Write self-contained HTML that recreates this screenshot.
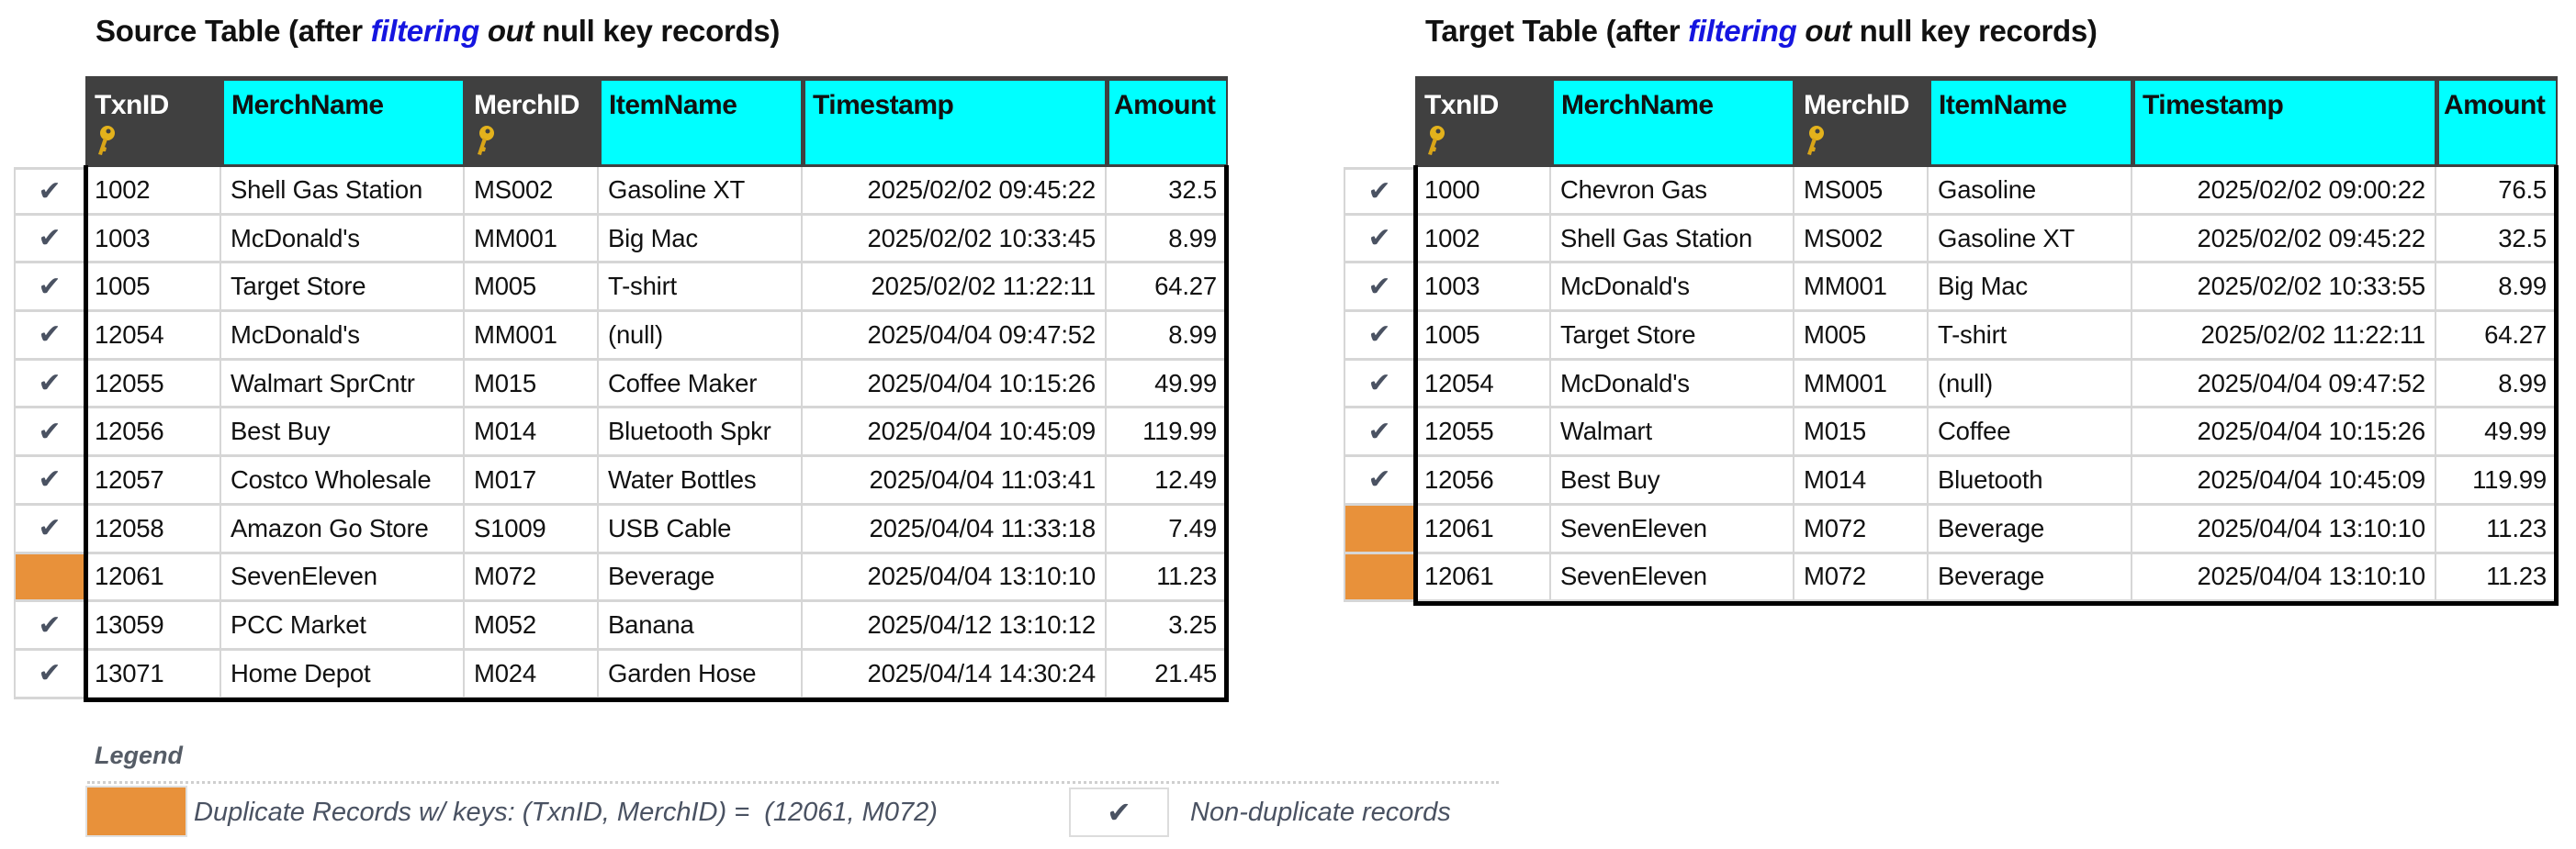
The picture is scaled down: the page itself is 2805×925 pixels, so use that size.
<!DOCTYPE html>
<html><head><meta charset="utf-8">
<style>
body{margin:0;width:2805px;height:925px;background:#fff;position:relative;overflow:hidden;font-family:"Liberation Sans",sans-serif;color:#111}
.title{position:absolute;top:15px;font-weight:bold;font-size:33px;white-space:nowrap;letter-spacing:-0.3px}
.title .f{color:#1515e0;font-style:italic}
.title .o{font-style:italic}
.t{position:absolute;top:83px}
table{border-collapse:separate;border-spacing:0;table-layout:fixed}
td{padding:0;font-size:27.5px;white-space:nowrap;overflow:hidden;height:52.7px;border-bottom:3px solid #d6d6d6;border-right:2px solid #d6d6d6;padding-left:10px;box-sizing:border-box;letter-spacing:-0.2px}
td.r{text-align:right;padding-right:10px;padding-left:0}
td.c{text-align:center;padding:0;color:#4a5262;font-size:30px;border-left:2px solid #d6d6d6}
td.c.first{border-top:3px solid #d6d6d6}
td.dup{background:#e8913a}
tr.h td{height:99px;border:none;padding:0;vertical-align:top;background:#404040;position:relative}
tr.h td.blank{background:#fff}
.hc{position:absolute;top:5px;left:3px;right:2px;bottom:3px;background:#00ffff;font-weight:bold;font-size:30px;padding:10px 0 0 8px;color:#111;letter-spacing:-0.5px}
.hd{color:#fff;font-weight:bold;font-size:30px;padding:15px 0 0 10px;letter-spacing:-0.5px}
.hd svg{display:block;margin-top:4px}
.bb{position:absolute;background:#000}
</style></head><body>

<div class="title" style="left:104px">Source Table (after <span class="f">filtering</span> <span class="o">out</span> null key records)</div>
<div class="title" style="left:1552px">Target Table (after <span class="f">filtering</span> <span class="o">out</span> null key records)</div>

<!-- SOURCE -->
<div class="t" style="left:15px">
<table>
<colgroup><col style="width:78px"><col style="width:148px"><col style="width:265px"><col style="width:146px"><col style="width:222px"><col style="width:331px"><col style="width:132px"></colgroup>
<tr class="h"><td class="blank"></td>
<td><div class="hd">TxnID<svg width="24" height="34" viewBox="0 0 24 34"><circle cx="14" cy="9" r="8" fill="#e3b21c"/><circle cx="15" cy="7" r="2.5" fill="#404040"/><path d="M10 14 L4 32 L8 33 L9 29 L12 29 L13 25 L11 24 L14 16Z" fill="#d9a518"/></svg></div></td>
<td><div class="hc">MerchName</div></td>
<td><div class="hd">MerchID<svg width="24" height="34" viewBox="0 0 24 34"><circle cx="14" cy="9" r="8" fill="#e3b21c"/><circle cx="15" cy="7" r="2.5" fill="#404040"/><path d="M10 14 L4 32 L8 33 L9 29 L12 29 L13 25 L11 24 L14 16Z" fill="#d9a518"/></svg></div></td>
<td><div class="hc">ItemName</div></td>
<td><div class="hc">Timestamp</div></td>
<td><div class="hc" style="padding-left:5px">Amount</div></td></tr>
<tr><td class="c first">✔</td><td>1002</td><td>Shell Gas Station</td><td>MS002</td><td>Gasoline XT</td><td class="r">2025/02/02 09:45:22</td><td class="r">32.5</td></tr>
<tr><td class="c">✔</td><td>1003</td><td>McDonald's</td><td>MM001</td><td>Big Mac</td><td class="r">2025/02/02 10:33:45</td><td class="r">8.99</td></tr>
<tr><td class="c">✔</td><td>1005</td><td>Target Store</td><td>M005</td><td>T-shirt</td><td class="r">2025/02/02 11:22:11</td><td class="r">64.27</td></tr>
<tr><td class="c">✔</td><td>12054</td><td>McDonald's</td><td>MM001</td><td>(null)</td><td class="r">2025/04/04 09:47:52</td><td class="r">8.99</td></tr>
<tr><td class="c">✔</td><td>12055</td><td>Walmart SprCntr</td><td>M015</td><td>Coffee Maker</td><td class="r">2025/04/04 10:15:26</td><td class="r">49.99</td></tr>
<tr><td class="c">✔</td><td>12056</td><td>Best Buy</td><td>M014</td><td>Bluetooth Spkr</td><td class="r">2025/04/04 10:45:09</td><td class="r">119.99</td></tr>
<tr><td class="c">✔</td><td>12057</td><td>Costco Wholesale</td><td>M017</td><td>Water Bottles</td><td class="r">2025/04/04 11:03:41</td><td class="r">12.49</td></tr>
<tr><td class="c">✔</td><td>12058</td><td>Amazon Go Store</td><td>S1009</td><td>USB Cable</td><td class="r">2025/04/04 11:33:18</td><td class="r">7.49</td></tr>
<tr><td class="c dup"></td><td>12061</td><td>SevenEleven</td><td>M072</td><td>Beverage</td><td class="r">2025/04/04 13:10:10</td><td class="r">11.23</td></tr>
<tr><td class="c">✔</td><td>13059</td><td>PCC Market</td><td>M052</td><td>Banana</td><td class="r">2025/04/12 13:10:12</td><td class="r">3.25</td></tr>
<tr><td class="c">✔</td><td>13071</td><td>Home Depot</td><td>M024</td><td>Garden Hose</td><td class="r">2025/04/14 14:30:24</td><td class="r">21.45</td></tr>
</table></div>
<div class="bb" style="left:91px;top:180px;width:5px;height:585px"></div>
<div class="bb" style="left:1333px;top:180px;width:5px;height:585px"></div>
<div class="bb" style="left:91px;top:760px;width:1247px;height:5px"></div>

<!-- TARGET -->
<div class="t" style="left:1463px">
<table>
<colgroup><col style="width:78px"><col style="width:148px"><col style="width:265px"><col style="width:146px"><col style="width:222px"><col style="width:331px"><col style="width:132px"></colgroup>
<tr class="h"><td class="blank"></td>
<td><div class="hd">TxnID<svg width="24" height="34" viewBox="0 0 24 34"><circle cx="14" cy="9" r="8" fill="#e3b21c"/><circle cx="15" cy="7" r="2.5" fill="#404040"/><path d="M10 14 L4 32 L8 33 L9 29 L12 29 L13 25 L11 24 L14 16Z" fill="#d9a518"/></svg></div></td>
<td><div class="hc">MerchName</div></td>
<td><div class="hd">MerchID<svg width="24" height="34" viewBox="0 0 24 34"><circle cx="14" cy="9" r="8" fill="#e3b21c"/><circle cx="15" cy="7" r="2.5" fill="#404040"/><path d="M10 14 L4 32 L8 33 L9 29 L12 29 L13 25 L11 24 L14 16Z" fill="#d9a518"/></svg></div></td>
<td><div class="hc">ItemName</div></td>
<td><div class="hc">Timestamp</div></td>
<td><div class="hc" style="padding-left:5px">Amount</div></td></tr>
<tr><td class="c first">✔</td><td>1000</td><td>Chevron Gas</td><td>MS005</td><td>Gasoline</td><td class="r">2025/02/02 09:00:22</td><td class="r">76.5</td></tr>
<tr><td class="c">✔</td><td>1002</td><td>Shell Gas Station</td><td>MS002</td><td>Gasoline XT</td><td class="r">2025/02/02 09:45:22</td><td class="r">32.5</td></tr>
<tr><td class="c">✔</td><td>1003</td><td>McDonald's</td><td>MM001</td><td>Big Mac</td><td class="r">2025/02/02 10:33:55</td><td class="r">8.99</td></tr>
<tr><td class="c">✔</td><td>1005</td><td>Target Store</td><td>M005</td><td>T-shirt</td><td class="r">2025/02/02 11:22:11</td><td class="r">64.27</td></tr>
<tr><td class="c">✔</td><td>12054</td><td>McDonald's</td><td>MM001</td><td>(null)</td><td class="r">2025/04/04 09:47:52</td><td class="r">8.99</td></tr>
<tr><td class="c">✔</td><td>12055</td><td>Walmart</td><td>M015</td><td>Coffee</td><td class="r">2025/04/04 10:15:26</td><td class="r">49.99</td></tr>
<tr><td class="c">✔</td><td>12056</td><td>Best Buy</td><td>M014</td><td>Bluetooth</td><td class="r">2025/04/04 10:45:09</td><td class="r">119.99</td></tr>
<tr><td class="c dup"></td><td>12061</td><td>SevenEleven</td><td>M072</td><td>Beverage</td><td class="r">2025/04/04 13:10:10</td><td class="r">11.23</td></tr>
<tr><td class="c dup"></td><td>12061</td><td>SevenEleven</td><td>M072</td><td>Beverage</td><td class="r">2025/04/04 13:10:10</td><td class="r">11.23</td></tr>
</table></div>
<div class="bb" style="left:1539px;top:180px;width:5px;height:480px"></div>
<div class="bb" style="left:2781px;top:180px;width:5px;height:480px"></div>
<div class="bb" style="left:1539px;top:655px;width:1247px;height:5px"></div>

<!-- LEGEND -->
<div style="position:absolute;left:103px;top:808px;font-size:27px;font-weight:bold;font-style:italic;color:#555c66">Legend</div>
<div style="position:absolute;left:95px;top:851px;width:1537px;border-top:3px dotted #cfcfcf"></div>
<div style="position:absolute;left:95px;top:858px;width:107px;height:52px;background:#e8913a;box-shadow:0 0 0 2px #e0e0e0"></div>
<div style="position:absolute;left:211px;top:869px;font-size:29px;font-style:italic;color:#4a5262;white-space:nowrap">Duplicate Records w/ keys: (TxnID, MerchID) =&nbsp; (12061, M072)</div>
<div style="position:absolute;left:1164px;top:858px;width:105px;height:50px;border:2px solid #dcdcdc;text-align:center;line-height:50px;font-size:32px;color:#4a5262">✔</div>
<div style="position:absolute;left:1296px;top:869px;font-size:29px;font-style:italic;color:#4a5262;white-space:nowrap">Non-duplicate records</div>
</body></html>
